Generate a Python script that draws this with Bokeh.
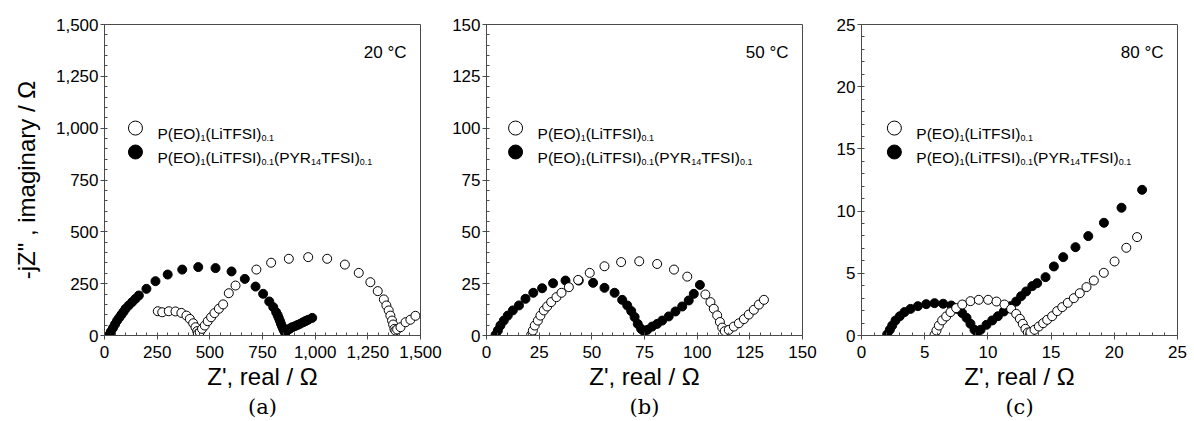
from bokeh.plotting import figure
from bokeh.models import Range1d, SingleIntervalTicker, NumeralTickFormatter, Label, LinearAxis, FixedTicker
from bokeh.layouts import row
from bokeh.embed import file_html
from bokeh.resources import INLINE

# ---------------- data ----------------
# (a) 20 °C
a_neat_x = [253, 274, 305, 337, 365, 389, 405, 421, 432, 440, 443, 452, 463, 476, 490, 506, 522, 543, 563,
            590, 622, 721, 791, 875, 967, 1057, 1141, 1207, 1262, 1297, 1326, 1338, 1349, 1357, 1365, 1370,
            1376, 1381, 1389, 1405, 1429, 1452, 1476]
a_neat_y = [117, 112, 117, 116, 109, 96, 80, 59, 40, 21, 8, 16, 32, 48, 69, 88, 108, 129, 150,
            204, 241, 318, 351, 370, 378, 370, 342, 302, 257, 214, 174, 145, 121, 96, 72, 53,
            32, 24, 29, 40, 64, 76, 95]
a_il_x = [22, 30, 40, 50, 60, 70, 80, 90, 100, 115, 131, 147, 163, 199, 242, 300, 369, 445, 527, 603, 666,
          717, 753, 782, 801, 815, 822, 827, 833, 838, 843, 848, 852, 856, 861, 867, 875, 883, 891, 904,
          917, 930, 943, 955, 967, 986]
a_il_y = [2, 18, 36, 54, 72, 86, 100, 114, 129, 145, 161, 177, 193, 225, 262, 294, 318, 330, 325, 309, 273,
          236, 201, 164, 137, 112, 98, 85, 70, 56, 44, 32, 24, 16, 18, 24, 30, 35, 40, 45,
          51, 57, 64, 70, 76, 85]

# (b) 50 °C
b_neat_x = [21.2, 22.0, 22.9, 24.4, 25.6, 27.2, 28.8, 30.7, 33.2, 35.6, 39.1, 43.5, 49.0, 56.0, 63.9, 72.5,
            81.0, 89.0, 95.3, 103.9, 106.3, 107.9, 109.5, 110.8, 111.9, 113.1, 115.0, 117.4, 119.8, 122.2,
            124.5, 126.9, 129.3, 131.7]
b_neat_y = [0.3, 2.4, 4.8, 7.2, 9.6, 12.1, 14.0, 16.1, 18.5, 20.6, 23.3, 26.8, 30.2, 33.4, 35.4, 35.8,
            34.5, 31.8, 28.4, 19.8, 16.1, 12.9, 9.7, 6.5, 3.8, 2.1, 2.7, 4.3, 5.9, 7.9,
            10.1, 12.4, 14.9, 17.2]
b_il_x = [4.3, 5.4, 6.6, 8.2, 10.1, 12.5, 15.4, 18.5, 22.2, 26.4, 31.6, 37.5, 43.8, 50.6, 56.0, 60.8, 64.4,
          66.8, 68.7, 70.3, 71.8, 73.4, 74.7, 76.3, 78.6, 81.0, 83.4, 86.5, 89.7, 92.9, 96.0, 98.4, 101.3]
b_il_y = [0.3, 2.4, 4.8, 7.2, 9.6, 12.1, 14.5, 17.7, 20.6, 22.8, 25.2, 26.5, 26.5, 25.4, 23.0, 20.6, 17.2,
          14.5, 11.8, 8.9, 5.6, 3.2, 2.1, 2.7, 4.3, 5.6, 7.2, 9.2, 11.6, 14.0, 16.9, 20.1, 24.4]

# (c) 80 °C
c_neat_x = [5.78, 5.93, 6.12, 6.38, 6.70, 7.04, 7.49, 7.97, 8.62, 9.28, 10.02, 10.68, 11.31, 11.84, 12.24,
            12.53, 12.76, 12.97, 13.16, 13.37, 13.69, 14.03, 14.37, 14.69, 15.08, 15.48, 15.88, 16.32,
            16.80, 17.27, 17.80, 18.38, 19.17, 20.02, 20.95, 21.8]
c_neat_y = [0.05, 0.40, 0.80, 1.21, 1.53, 1.88, 2.20, 2.49, 2.76, 2.87, 2.87, 2.73, 2.49, 2.14, 1.74,
            1.34, 0.94, 0.54, 0.24, 0.27, 0.46, 0.72, 0.99, 1.26, 1.55, 1.96, 2.28, 2.63,
            3.00, 3.40, 3.89, 4.42, 5.04, 5.95, 7.05, 7.91]
c_il_x = [2.03, 2.24, 2.43, 2.69, 3.03, 3.40, 3.88, 4.46, 5.12, 5.78, 6.46, 7.10, 7.57, 7.97, 8.31, 8.62,
          8.94, 9.15, 9.42, 9.89, 10.34, 10.79, 11.26, 11.79, 12.24, 12.63, 13.03, 13.51, 13.9, 14.56,
          15.22, 15.96, 16.93, 17.94, 19.18, 20.57, 22.2]
c_il_y = [0.08, 0.46, 0.80, 1.21, 1.55, 1.88, 2.14, 2.36, 2.52, 2.60, 2.55, 2.41, 2.14, 1.80, 1.42, 0.94,
          0.46, 0.27, 0.46, 0.86, 1.21, 1.55, 1.93, 2.36, 2.73, 3.16, 3.54, 3.97, 4.21, 4.69,
          5.55, 6.30, 7.10, 7.99, 9.06, 10.27, 11.71]

x_max = [1500, 150, 25]
y_max = [1500, 150, 25]
tick_step = [250, 25, 5]
temps = ["20 °C", "50 °C", "80 °C"]
panel_tags = ["(a)", "(b)", "(c)"]
x_title = "Z', real / Ω"
y_title = '-jZ" , imaginary / Ω'
legend_neat = [("P(EO)", 0), ("1", 1), ("(LiTFSI)", 0), ("0.1", 1)]
legend_il = [("P(EO)", 0), ("1", 1), ("(LiTFSI)", 0), ("0.1", 1), ("(PYR", 0), ("14", 1), ("TFSI)", 0), ("0.1", 1)]

series = [
    (a_neat_x, a_neat_y, a_il_x, a_il_y),
    (b_neat_x, b_neat_y, b_il_x, b_il_y),
    (c_neat_x, c_neat_y, c_il_x, c_il_y),
]

# ---------------- style ----------------
FONT = "Liberation Sans"
MAIN_FS = 15.5
SUB_FS = 9
ARIAL_W = {"P": 667, "(": 333, ")": 333, "E": 667, "O": 778, "L": 556, "i": 222, "T": 611, "F": 611,
           "S": 667, "I": 278, "Y": 667, "R": 722, ".": 278, " ": 278}
for d in "0123456789":
    ARIAL_W[d] = 556


def text_width(s, fs):
    return sum(ARIAL_W.get(ch, 556) for ch in s) / 1000.0 * fs


left_border = [104, 43, 41]
right_border = [23, 18, 11]
legend_fx = [0.098, 0.092, 0.104]
AX_COL = "#4a4a4a"

figs = []
for i in range(3):
    nx, ny, ix, iy = series[i]
    p = figure(frame_width=316, frame_height=311,
               x_range=Range1d(0, x_max[i]), y_range=Range1d(0, y_max[i]),
               output_backend="svg", toolbar_location=None,
               min_border_left=left_border[i], min_border_right=right_border[i],
               min_border_top=24, min_border_bottom=86)
    p.xgrid.visible = False
    p.ygrid.visible = False
    p.outline_line_color = AX_COL
    p.outline_line_width = 1
    p.background_fill_color = "white"
    p.border_fill_color = "white"

    for ax in (p.xaxis[0], p.yaxis[0]):
        ax.ticker = SingleIntervalTicker(interval=tick_step[i], num_minor_ticks=5)
        if i == 0:
            ax.formatter = NumeralTickFormatter(format="0,0")
        ax.axis_line_color = AX_COL
        ax.major_tick_line_color = AX_COL
        ax.minor_tick_line_color = AX_COL
        ax.major_tick_in = 0
        ax.major_tick_out = 4
        ax.minor_tick_in = 3
        ax.minor_tick_out = 0
        ax.major_label_text_font = FONT
        ax.major_label_text_font_size = "17px"
        ax.major_label_text_color = "black"
        ax.axis_label_text_font = FONT
        ax.axis_label_text_font_style = "normal"
        ax.axis_label_text_font_size = "24px"
        ax.axis_label_text_color = "black"
    p.xaxis[0].major_label_standoff = 6
    p.yaxis[0].major_label_standoff = 2
    p.xaxis[0].axis_label = x_title
    p.xaxis[0].axis_label_standoff = 2
    if i == 0:
        p.yaxis[0].axis_label = y_title
        p.yaxis[0].axis_label_standoff = 13

    # panel tag as a tick-less second bottom axis
    tag_axis = LinearAxis(ticker=FixedTicker(ticks=[]), axis_label=panel_tags[i],
                          axis_label_text_font="DejaVu Serif", axis_label_text_font_size="21px",
                          axis_label_text_font_style="normal", axis_label_text_color="black",
                          axis_label_standoff=2, axis_line_alpha=0, major_tick_out=0, major_tick_in=0,
                          minor_tick_out=0, minor_tick_in=0, major_label_text_font_size="0px",
                          major_label_standoff=0)
    p.add_layout(tag_axis, "below")

    # data
    p.scatter(ix, iy, size=9, marker="circle", fill_color="black", line_color="black")
    p.scatter(nx, ny, size=9, marker="circle", fill_color="white", line_color="black", line_width=1)

    # legend
    lx = legend_fx[i] * x_max[i]
    ly1 = 0.667 * y_max[i]
    ly2 = 0.590 * y_max[i]
    p.scatter([lx], [ly1], size=14, marker="circle", fill_color="white", line_color="black", line_width=1)
    p.scatter([lx], [ly2], size=14, marker="circle", fill_color="black", line_color="black")
    for ly, pieces in ((ly1, legend_neat), (ly2, legend_il)):
        off = 22
        for txt, sub in pieces:
            fs = SUB_FS if sub else MAIN_FS
            p.add_layout(Label(x=lx, y=ly, x_offset=off, y_offset=(-9.5 if sub else -5.5),
                               text=txt, text_font=FONT, text_font_size=f"{fs}px",
                               text_baseline="alphabetic", text_align="left", text_color="black"))
            off += text_width(txt, fs)

    # temperature
    p.add_layout(Label(x=x_max[i], y=y_max[i], x_offset=-14, y_offset=-28, text=temps[i],
                       text_font=FONT, text_font_size="17px", text_align="right",
                       text_baseline="middle", text_color="black"))
    figs.append(p)

layout = row(*figs)
open("out.html", "w").write(file_html(layout, INLINE))
